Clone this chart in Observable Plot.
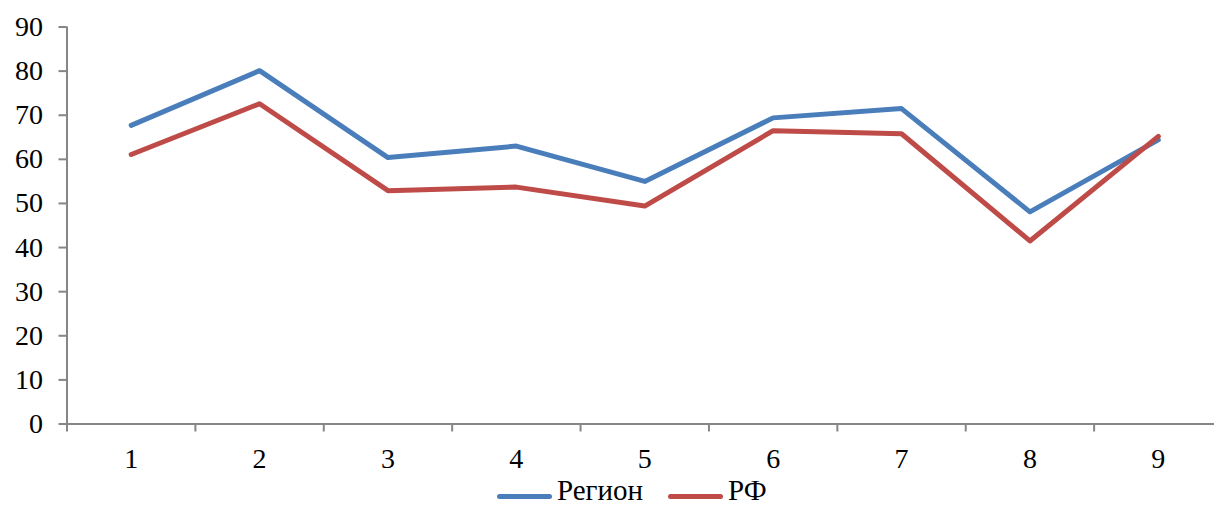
<!DOCTYPE html>
<html>
<head>
<meta charset="utf-8">
<script src="https://cdn.jsdelivr.net/npm/d3@7"></script>
<script src="https://cdn.jsdelivr.net/npm/@observablehq/plot@0.6"></script>
<style>
  html, body { margin: 0; padding: 0; background: #fff; overflow: hidden; }
  #wrap { position: relative; width: 1214px; height: 506px; overflow: hidden; }
  #chart svg { max-width: none !important; }
  #legend { position: absolute; left: 497px; top: 476px; height: 28px; line-height: 28px; display: flex; align-items: center;
    font-family: "Liberation Serif", serif; font-size: 29px; color: #000; white-space: nowrap; }
  .sw { display: inline-block; width: 55px; height: 5px; border-radius: 3px; margin-right: 5px; position: relative; top: 6px; }
  .item { display: flex; align-items: center; margin-right: 25px; line-height: 28px; height: 28px; }
</style>
</head>
<body>
<div id="wrap"><div id="chart"></div><div id="legend"></div></div>
<script>
const categories = [1, 2, 3, 4, 5, 6, 7, 8, 9];
const seriesNames = ["Регион", "РФ"];
const regionValues = [67.7, 80.1, 60.4, 63.0, 55.0, 69.4, 71.5, 48.1, 64.4];
const rfValues = [61.1, 72.6, 52.9, 53.7, 49.4, 66.5, 65.8, 41.5, 65.2];
const yTicks = [0, 10, 20, 30, 40, 50, 60, 70, 80, 90];
const seriesColors = ["#4A7EBB", "#BE4B48"];

const data = [];
categories.forEach((c, i) => data.push({cat: c, value: regionValues[i], series: seriesNames[0]}));
categories.forEach((c, i) => data.push({cat: c, value: rfValues[i], series: seriesNames[1]}));
const boundaries = [categories[0] - 0.5, ...categories.map(c => c + 0.5)];

const H = 476;
const chart = Plot.plot({
  width: 1222,
  height: H,
  marginLeft: 66.5,
  marginRight: 0,
  marginTop: 26.5,
  marginBottom: H - 423.5,
  style: {fontFamily: "Liberation Serif, serif", fontSize: "28px", color: "#000", background: "#fff", overflow: "visible", maxWidth: "none"},
  x: {type: "linear", domain: [boundaries[0], boundaries[boundaries.length - 1]]},
  y: {domain: [0, 90]},
  color: {domain: seriesNames, range: seriesColors},
  marks: [
    Plot.axisY({ticks: yTicks, tickSize: 8, tickPadding: 16, stroke: "#868686", strokeWidth: 2, fill: "#000", label: null, tickFormat: d => String(d)}),
    Plot.axisX({ticks: boundaries, tickSize: 8, stroke: "#868686", strokeWidth: 2, tickFormat: () => "", label: null}),
    Plot.axisX({ticks: categories, tickSize: 0, tickPadding: 24, fill: "#000", label: null, tickFormat: d => String(d)}),
    Plot.ruleX([boundaries[0]], {stroke: "#868686", strokeWidth: 2}),
    Plot.ruleY([0], {stroke: "#868686", strokeWidth: 2}),
    Plot.lineY(data, {x: "cat", y: "value", z: "series", stroke: "series", strokeWidth: 5, strokeLinecap: "round", strokeLinejoin: "round"})
  ]
});
document.getElementById("chart").appendChild(chart);

const legend = document.getElementById("legend");
seriesNames.forEach((name, i) => {
  const item = document.createElement("div");
  item.className = "item";
  const sw = document.createElement("span");
  sw.className = "sw";
  sw.style.background = seriesColors[i];
  const t = document.createElement("span");
  t.textContent = name;
  item.appendChild(sw);
  item.appendChild(t);
  legend.appendChild(item);
});
</script>
</body>
</html>
